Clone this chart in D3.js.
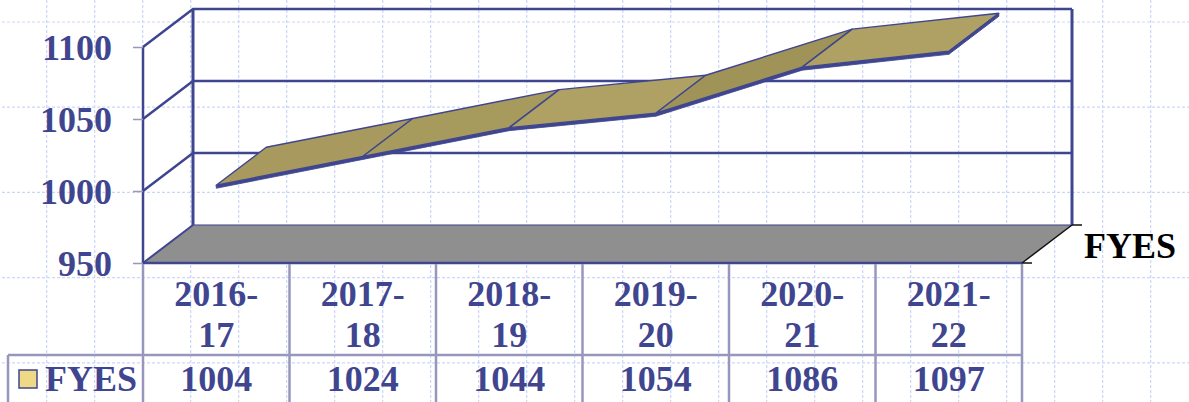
<!DOCTYPE html>
<html><head><meta charset="utf-8">
<script src="https://cdn.jsdelivr.net/npm/d3@7"></script>
<style>html,body{margin:0;padding:0;background:#fff}svg{display:block}text{font-family:"Liberation Serif",serif;font-weight:bold}</style>
</head><body><svg id="c" width="1189" height="402"></svg>
<script>
const categories1 = ["2016-","2017-","2018-","2019-","2020-","2021-"];
const categories2 = ["17","18","19","20","21","22"];
const values = [1004,1024,1044,1054,1086,1097];
const seriesName = "FYES";
const yTicks = [950,1000,1050,1100];
const segmentFills = ["#A89A5E","#A79A5D","#AEA163","#A09358","#AEA163"];

const W=1189,H=402,ink="#3F468F",tableInk="#9797BD",fs=36;
const dx=50,dy=-38;
const svg=d3.select("#c");
const y=d3.scaleLinear().domain([950,1100]).range([263,47]);
const band=d3.scaleBand().domain(d3.range(6)).range([143,1022]);
const px=i=>band(i)+band.bandwidth()/2;

// slide background grid
const bg=svg.append("g").attr("stroke","#CBD7F8").attr("stroke-width",1.2).attr("stroke-dasharray","3 2");
d3.range(46.7,W,48).forEach(x=>bg.append("line").attr("x1",x).attr("x2",x).attr("y1",0).attr("y2",H));
d3.range(22,H,85.2).forEach(yy=>bg.append("line").attr("x1",2).attr("x2",W).attr("y1",yy).attr("y2",yy));

// floor
const x0=143,x1=1022,y0=y(950);
svg.append("path").attr("d",`M${x0},${y0}L${x0+dx},${y0+dy}L${x1+dx},${y0+dy}L${x1},${y0}Z`).attr("fill","#8F8F8F");
svg.append("line").attr("x1",x0+dx).attr("x2",x1+dx).attr("y1",y0+dy).attr("y2",y0+dy).attr("stroke",ink).attr("stroke-opacity",.7).attr("stroke-width",1.5);
svg.append("line").attr("x1",x0).attr("x2",x1).attr("y1",y0).attr("y2",y0).attr("stroke",ink).attr("stroke-width",2.5);
svg.append("line").attr("x1",x0).attr("x2",x0+dx).attr("y1",y0).attr("y2",y0+dy).attr("stroke",ink).attr("stroke-width",2);
svg.append("line").attr("x1",x1).attr("x2",x1+dx).attr("y1",y0).attr("y2",y0+dy).attr("stroke","#111").attr("stroke-width",1.5);

// walls
const wall=svg.append("g").attr("stroke",ink).attr("stroke-width",2.5).attr("fill","none");
yTicks.slice(1).forEach(v=>{
  wall.append("path").attr("d",`M${x0},${y(v)}L${x0+dx},${y(v)+dy}L${x1+dx},${y(v)+dy}`);
});
wall.append("line").attr("x1",x0).attr("x2",x0).attr("y1",y(1100)).attr("y2",y(950));
wall.append("line").attr("x1",x0+dx).attr("x2",x0+dx).attr("y1",y(1100)+dy).attr("y2",y(950)+dy).attr("stroke-width",3);
wall.append("line").attr("x1",x1+dx).attr("x2",x1+dx).attr("y1",y(1100)+dy).attr("y2",y(950)+dy).attr("stroke-width",3);

// y axis
const ax=svg.append("g").attr("transform",`translate(${x0},0)`).call(d3.axisLeft(y).tickValues(yTicks).tickSize(10).tickPadding(21).tickFormat(d3.format("d")));
ax.select(".domain").remove();
ax.selectAll(".tick line").attr("stroke",tableInk).attr("stroke-width",1.5);
ax.selectAll("text").attr("fill",ink).attr("font-size",fs).style("font-family","'Liberation Serif',serif").attr("dy","0.34em");
// right-end ticks
[[x1,y0],[x1+dx,y0+dy]].forEach(([a,b])=>svg.append("line").attr("x1",a).attr("x2",a+10).attr("y1",b).attr("y2",b).attr("stroke","#111").attr("stroke-width",1.5));
svg.append("text").attr("x",1084).attr("y",258).attr("fill","#000").attr("font-size",fs).text(seriesName);

// ribbon
const rib=svg.append("g");
for(let i=0;i<values.length-1;i++){
  const a=[px(i),y(values[i])],b=[px(i+1),y(values[i+1])];
  rib.append("path").attr("d",`M${a}L${b}L${b[0]},${b[1]+3}L${a[0]},${a[1]+3}Z`).attr("fill",ink).attr("stroke",ink).attr("stroke-width",.8);
  rib.append("path").attr("d",`M${a}L${b}L${b[0]+dx},${b[1]+dy}L${a[0]+dx},${a[1]+dy}Z`)
    .attr("fill",segmentFills[i]).attr("stroke",ink).attr("stroke-width",1.4).attr("stroke-linejoin","round");
}
const last=values.length-1,lx=px(last),ly=y(values[last]);
rib.append("path").attr("d",`M${lx},${ly}L${lx+dx},${ly+dy}L${lx+dx},${ly+dy+3}L${lx},${ly+3}Z`).attr("fill",ink).attr("stroke",ink).attr("stroke-width",1);

// data table
const t=svg.append("g").attr("stroke",tableInk).attr("stroke-width",2.5);
[...band.domain().map(i=>band(i)),x1].forEach(x=>t.append("line").attr("x1",x).attr("x2",x).attr("y1",y0+1).attr("y2",H));
t.append("line").attr("x1",8).attr("x2",x1).attr("y1",355).attr("y2",355);
t.append("line").attr("x1",8).attr("x2",8).attr("y1",355).attr("y2",H);
const tx=svg.append("g").attr("fill",ink).attr("font-size",fs).attr("text-anchor","middle");
categories1.forEach((c,i)=>tx.append("text").attr("x",px(i)).attr("y",306).text(c));
categories2.forEach((c,i)=>tx.append("text").attr("x",px(i)).attr("y",347).text(c));
values.forEach((v,i)=>tx.append("text").attr("x",px(i)).attr("y",391).text(v));
svg.append("rect").attr("x",19).attr("y",370).attr("width",18).attr("height",18).attr("fill","#EFD984").attr("stroke",ink).attr("stroke-width",1.5);
svg.append("text").attr("x",45).attr("y",391).attr("fill",ink).attr("font-size",fs).text(seriesName);
</script></body></html>
